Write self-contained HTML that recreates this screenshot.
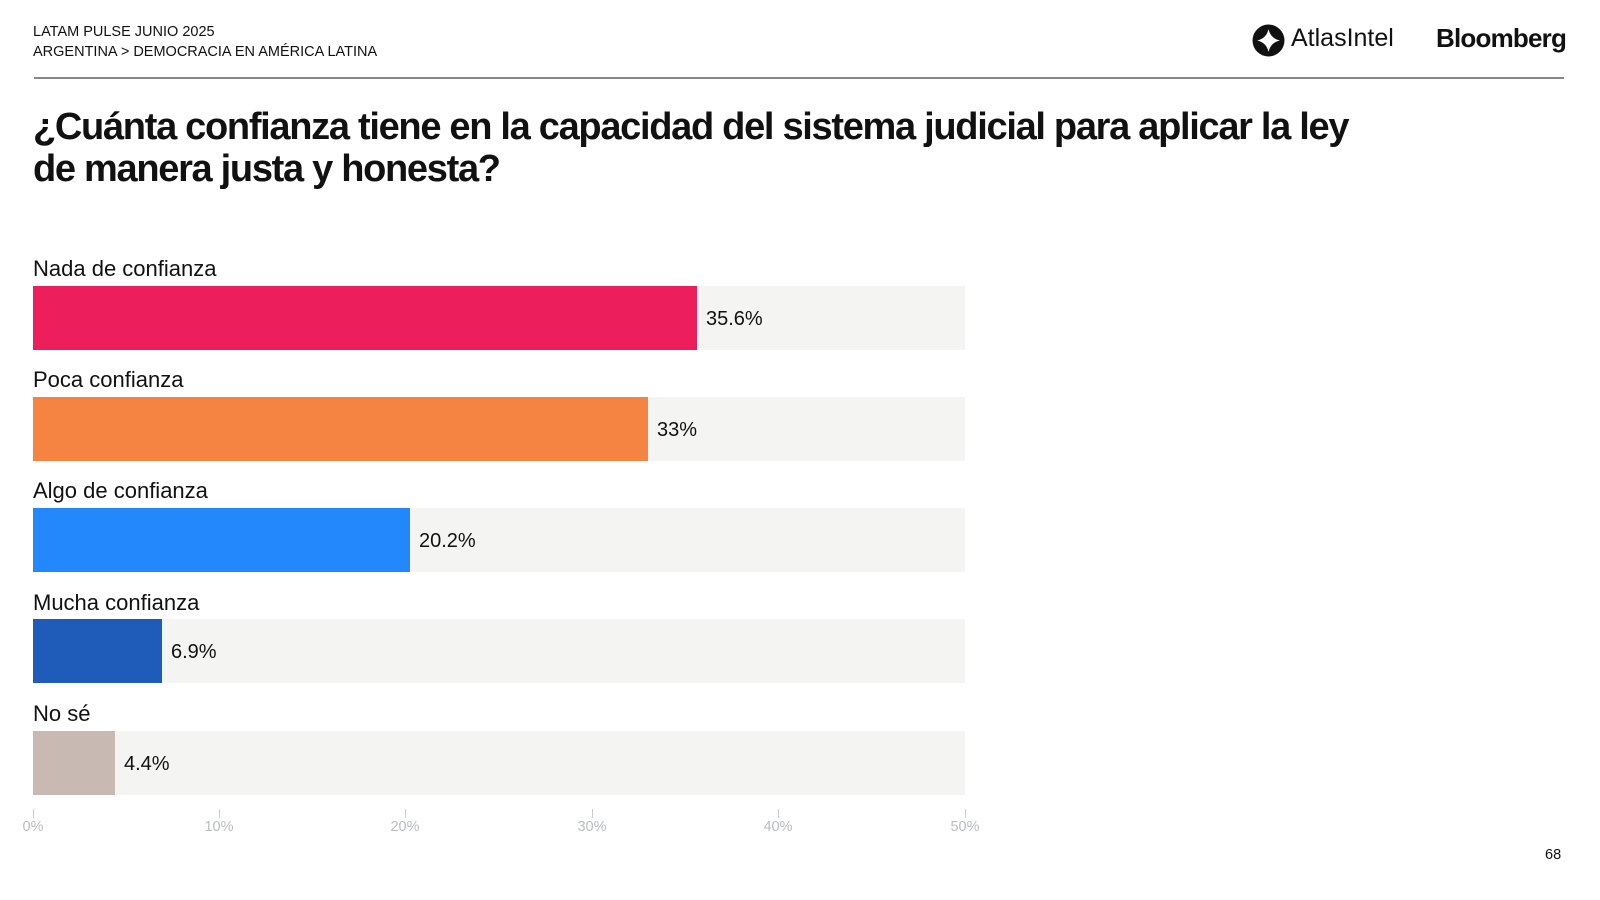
<!DOCTYPE html>
<html><head><meta charset="utf-8"><style>
body{margin:0;width:1600px;height:900px;background:#fff;font-family:"Liberation Sans",sans-serif;position:relative;overflow:hidden;color:#111}
.a{position:absolute}
.hdr{font-size:14.5px;line-height:20px;left:33px;top:22px}
.title{left:33px;top:106px;font-size:38px;font-weight:bold;line-height:42px;letter-spacing:-1.3px;width:1350px}
.lab{font-size:22px;left:33px}
.bg{left:33px;width:932px;height:64px;background:#f4f4f2}
.bar{left:33px;height:64px}
.val{font-size:20px}
.tick{width:1px;height:9px;background:#ccc;top:809px}
.tl{font-size:14.5px;color:#b8bcc4;top:819px;width:60px;text-align:center}
</style></head><body>
<div class="a hdr">LATAM PULSE JUNIO 2025<br>ARGENTINA &gt; DEMOCRACIA EN AMÉRICA LATINA</div>
<svg class="a" style="left:1252px;top:24px" width="33" height="33" viewBox="0 0 32 32"><circle cx="16" cy="16" r="15.5" fill="#111"/><path d="M16 5 Q18 14 27 16 Q18 18 16 27 Q14 18 5 16 Q14 14 16 5Z" fill="#fff"/></svg>
<div class="a" style="left:1291px;top:24px;font-size:25px">AtlasIntel</div>
<div class="a" style="left:1436px;top:23px;font-size:26px;font-weight:bold;letter-spacing:-0.8px">Bloomberg</div>
<div class="a" style="left:34px;top:77px;width:1530px;height:2px;background:#888"></div>
<div class="a title">¿Cuánta confianza tiene en la capacidad del sistema judicial para aplicar la ley<br>de manera justa y honesta?</div>

<div class="a lab" style="top:256px">Nada de confianza</div>
<div class="a bg" style="top:286px"></div><div class="a bar" style="top:286px;width:664px;background:#ec1e5c"></div>
<div class="a val" style="left:706px;top:308px">35.6%</div>

<div class="a lab" style="top:367px">Poca confianza</div>
<div class="a bg" style="top:397px"></div><div class="a bar" style="top:397px;width:615px;background:#f58342"></div>
<div class="a val" style="left:657px;top:419px">33%</div>

<div class="a lab" style="top:478px">Algo de confianza</div>
<div class="a bg" style="top:508px"></div><div class="a bar" style="top:508px;width:377px;background:#2288fb"></div>
<div class="a val" style="left:419px;top:530px">20.2%</div>

<div class="a lab" style="top:590px">Mucha confianza</div>
<div class="a bg" style="top:619px"></div><div class="a bar" style="top:619px;width:129px;background:#1f5bb8"></div>
<div class="a val" style="left:171px;top:641px">6.9%</div>

<div class="a lab" style="top:701px">No sé</div>
<div class="a bg" style="top:731px"></div><div class="a bar" style="top:731px;width:82px;background:#c8bab3"></div>
<div class="a val" style="left:124px;top:753px">4.4%</div>

<div class="a tick" style="left:33px"></div><div class="a tl" style="left:3px">0%</div>
<div class="a tick" style="left:219px"></div><div class="a tl" style="left:189px">10%</div>
<div class="a tick" style="left:405px"></div><div class="a tl" style="left:375px">20%</div>
<div class="a tick" style="left:592px"></div><div class="a tl" style="left:562px">30%</div>
<div class="a tick" style="left:778px"></div><div class="a tl" style="left:748px">40%</div>
<div class="a tick" style="left:965px"></div><div class="a tl" style="left:935px">50%</div>
<div class="a" style="left:1545px;top:847px;font-size:14.5px">68</div>
</body></html>
